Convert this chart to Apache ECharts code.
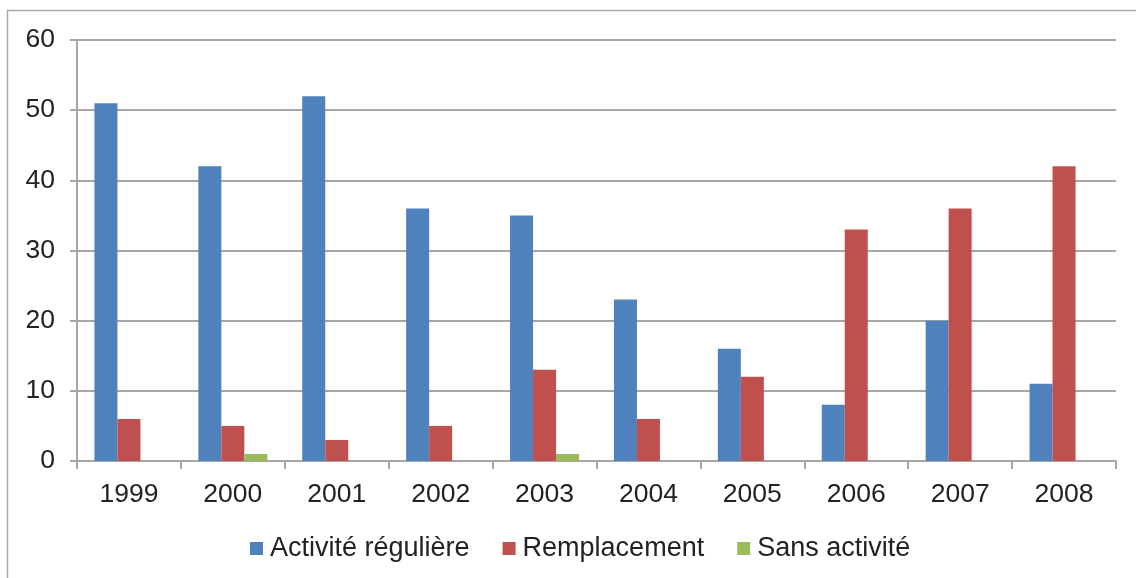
<!DOCTYPE html>
<html>
<head>
<meta charset="utf-8">
<script src="https://cdn.jsdelivr.net/npm/echarts@6/dist/echarts.min.js"></script>
<style>
    html, body { margin: 0; padding: 0; background: #fff; }
    #chart { width: 1136px; height: 578px; }
</style>
</head>
<body>
<div id="chart"></div>
<script>
// 数据
var years = ['1999', '2000', '2001', '2002', '2003', '2004', '2005', '2006', '2007', '2008'];
var reguliere = [51, 42, 52, 36, 35, 23, 16, 8, 20, 11];
var remplacement = [6, 5, 3, 5, 13, 6, 12, 33, 36, 42];
var sansActivite = [0, 1, 0, 0, 1, 0, 0, 0, 0, 0];

var chart = echarts.init(document.getElementById('chart'));
var font = 'Liberation Sans, Arial, sans-serif';

function bar(name, data, color) {
    return {
        name: name,
        type: 'bar',
        data: data,
        barWidth: 23,
        barGap: '0%',
        itemStyle: { color: color }
    };
}

var option = {
    animation: false,
    color: ['#4F81BD', '#C0504D', '#9BBB59'],
    graphic: [{
        type: 'rect',
        shape: { x: 7.5, y: 10.5, width: 1140, height: 580 },
        style: { fill: 'none', stroke: '#A6A6A6', lineWidth: 1.5 },
        silent: true
    }],
    grid: { left: 77, right: 20, top: 40, bottom: 117 },
    legend: {
        bottom: 11,
        left: 245,
        itemWidth: 13,
        itemHeight: 13,
        itemGap: 33,
        icon: 'rect',
        textStyle: { fontFamily: font, fontSize: 27, color: '#222', padding: [0, 0, 0, 2] },
        data: ['Activité régulière', 'Remplacement', 'Sans activité']
    },
    xAxis: {
        type: 'category',
        data: years,
        axisLine: { lineStyle: { color: '#A6A6A6', width: 2 } },
        axisTick: { show: true, length: 8, lineStyle: { color: '#A6A6A6', width: 2 } },
        axisLabel: { fontFamily: font, fontSize: 26.5, color: '#222', margin: 20 }
    },
    yAxis: {
        type: 'value',
        min: 0,
        max: 60,
        interval: 10,
        axisLine: { show: true, lineStyle: { color: '#A6A6A6', width: 2 } },
        axisTick: { show: true, length: 7, lineStyle: { color: '#A6A6A6', width: 2 } },
        splitLine: { lineStyle: { color: '#A6A6A6', width: 2 } },
        axisLabel: { fontFamily: font, fontSize: 26.5, color: '#222', margin: 22 }
    },
    series: [
        bar('Activité régulière', reguliere, '#4F81BD'),
        bar('Remplacement', remplacement, '#C0504D'),
        bar('Sans activité', sansActivite, '#9BBB59')
    ]
};

chart.setOption(option);
</script>
</body>
</html>
